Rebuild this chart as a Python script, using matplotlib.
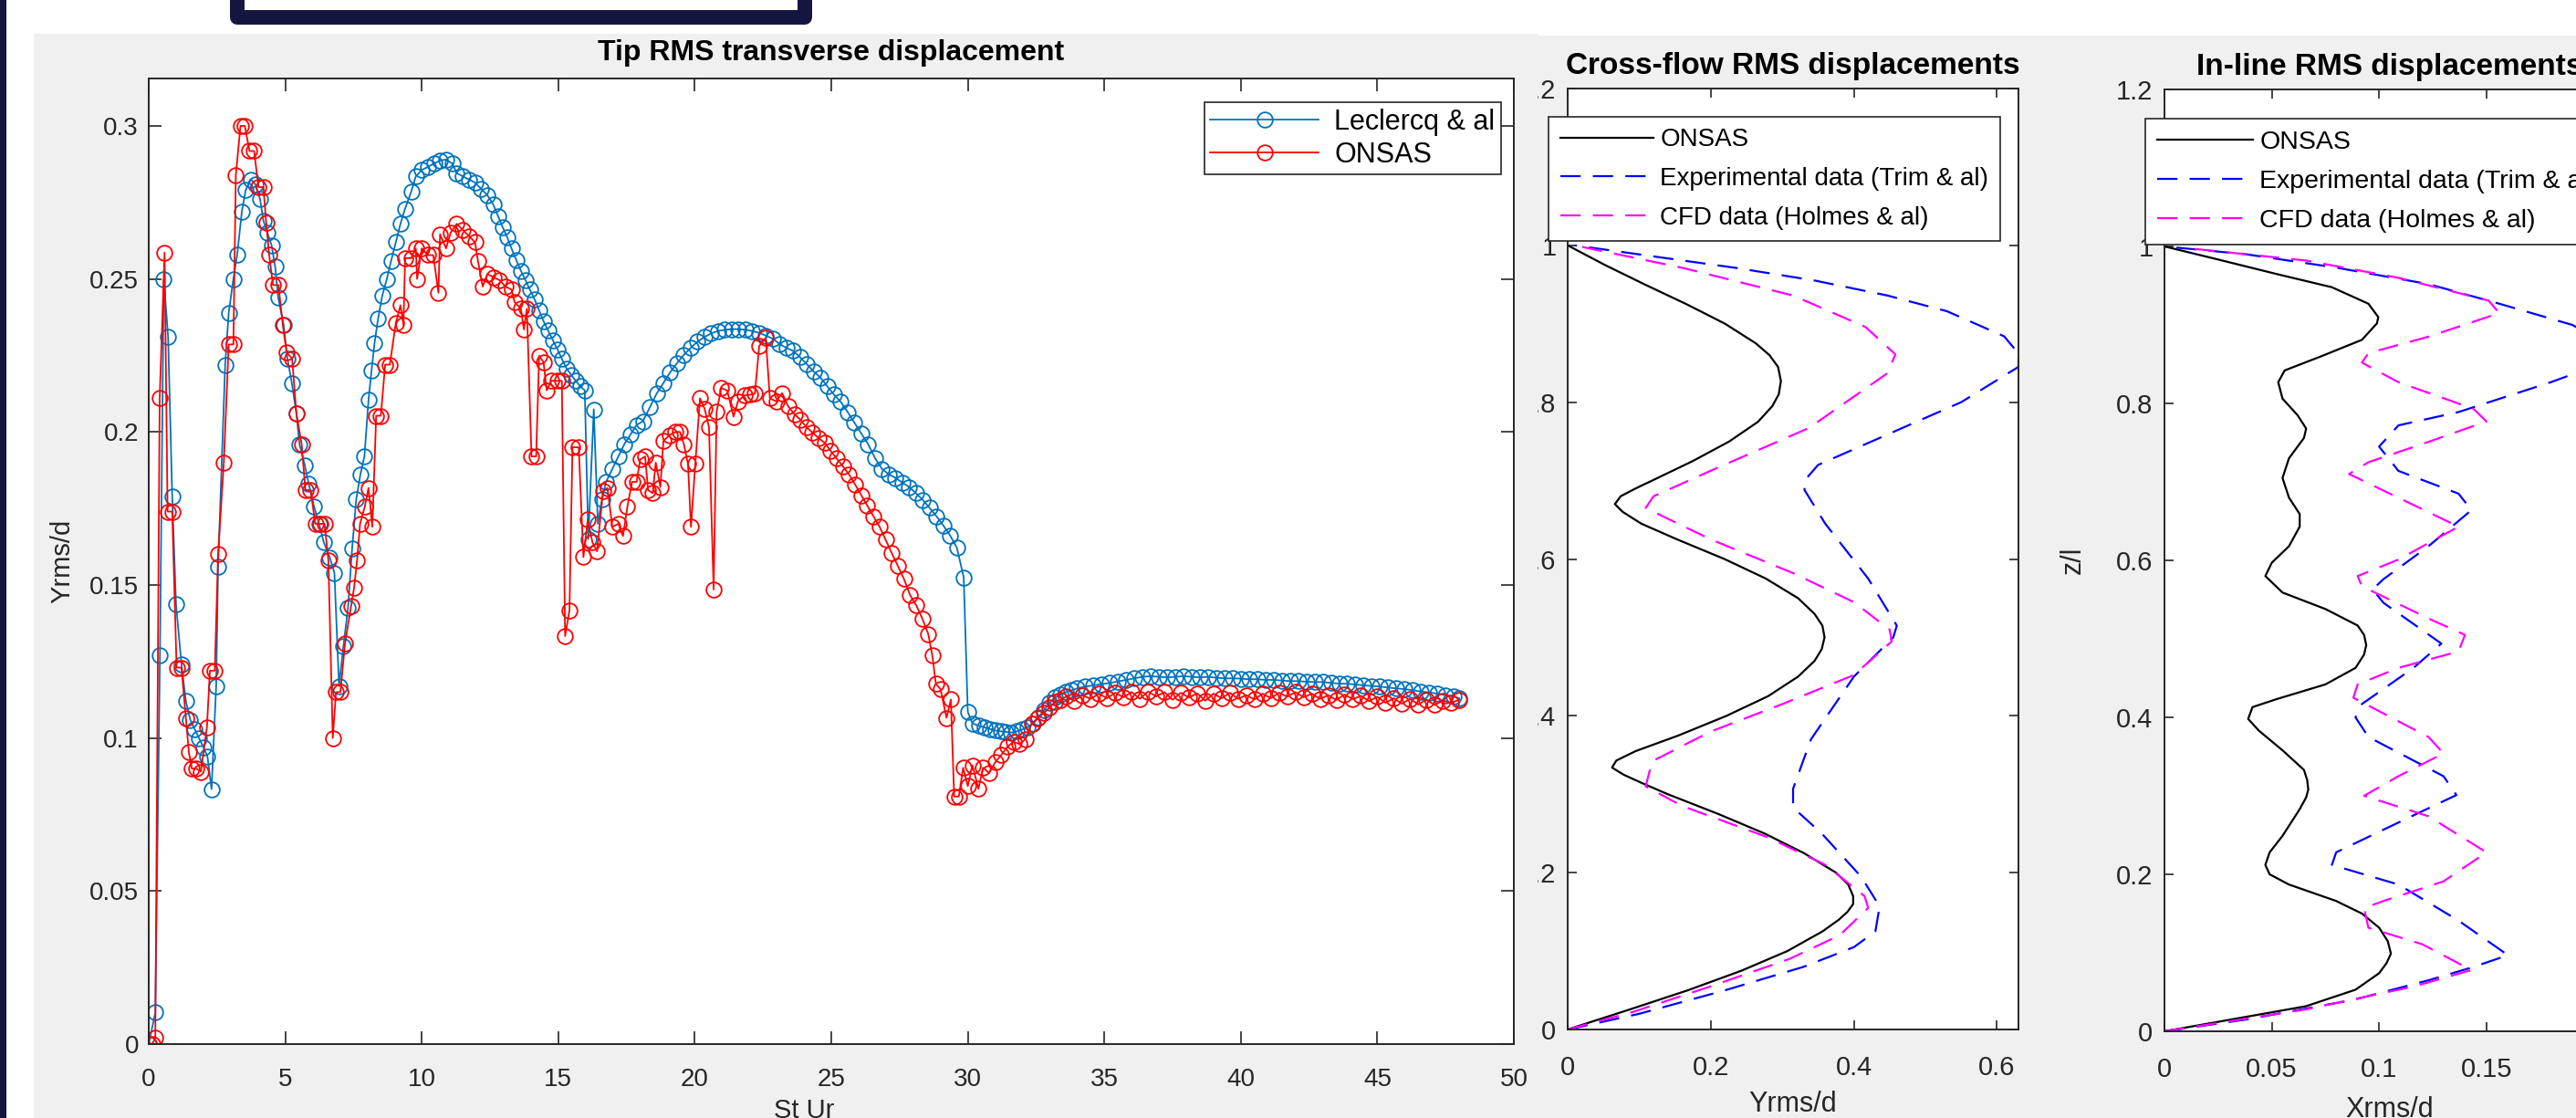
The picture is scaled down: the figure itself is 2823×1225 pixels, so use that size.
import numpy as np
import matplotlib.pyplot as plt
from matplotlib.patches import Rectangle

plt.rcParams['font.family'] = ['Liberation Sans', 'DejaVu Sans']

# ---------------- data: tip RMS transverse displacement ----------------
lec_x = [0.0, 0.24, 0.41, 0.55, 0.71, 0.86, 1.0, 1.2, 1.36, 1.52, 1.68, 1.84, 2.0, 2.15, 2.3,
         2.47, 2.54, 2.8, 2.93, 3.1, 3.24, 3.41, 3.55, 3.74, 3.9, 4.08, 4.2, 4.35, 4.5, 4.63,
         4.74, 4.94, 5.08, 5.24, 5.41, 5.52, 5.72, 5.86, 6.06, 6.24, 6.41, 6.63, 6.8, 6.97, 7.13,
         7.3, 7.45, 7.6, 7.75, 7.9, 8.05, 8.16, 8.27, 8.4, 8.55, 8.72, 8.88, 9.05, 9.22, 9.39,
         9.61, 9.78, 10.0, 10.22, 10.45, 10.67, 10.89, 11.12, 11.28, 11.51, 11.73, 11.95, 12.18,
         12.4, 12.62, 12.79, 12.96, 13.13, 13.29, 13.46, 13.63, 13.8, 13.96, 14.13, 14.3, 14.46,
         14.63, 14.8, 14.97, 15.13, 15.3, 15.47, 15.64, 15.8, 15.97, 16.1, 16.3, 16.45, 16.6,
         16.75, 16.98, 17.2, 17.42, 17.65, 17.87, 18.1, 18.35, 18.6, 18.85, 19.1, 19.35, 19.6,
         19.85, 20.1, 20.35, 20.6, 20.85, 21.1, 21.35, 21.6, 21.85, 22.1, 22.35, 22.6, 22.85,
         23.1, 23.35, 23.6, 23.85, 24.1, 24.35, 24.6, 24.85, 25.1, 25.35, 25.6, 25.85, 26.1,
         26.35, 26.6, 26.85, 27.1, 27.35, 27.6, 27.85, 28.1, 28.35, 28.6, 28.85, 29.1, 29.35,
         29.6, 29.85, 30.0, 30.17, 30.4, 30.6, 30.8, 31.0, 31.2, 31.4, 31.6, 31.8, 32.0, 32.2,
         32.4, 32.6, 32.8, 33.0, 33.2, 33.4, 33.6, 33.8, 34.0, 34.3, 34.6, 34.9, 35.2, 35.5,
         35.8, 36.1, 36.4, 36.7, 37.0, 37.3, 37.6, 37.9, 38.2, 38.5, 38.8, 39.1, 39.4, 39.7,
         40.0, 40.3, 40.6, 40.9, 41.2, 41.5, 41.8, 42.1, 42.4, 42.7, 43.0, 43.3, 43.6, 43.9,
         44.2, 44.5, 44.8, 45.1, 45.4, 45.7, 46.0, 46.3, 46.6, 46.9, 47.2, 47.5, 47.8, 48.0]
lec_y = [0.0, 0.0103, 0.127, 0.25, 0.231, 0.179, 0.1436, 0.124, 0.112, 0.106, 0.103, 0.100, 0.097, 0.094, 0.0833,
         0.117, 0.156, 0.222, 0.239, 0.250, 0.258, 0.272, 0.279, 0.2825, 0.281, 0.276, 0.269, 0.265, 0.261, 0.254,
         0.244, 0.235, 0.224, 0.216, 0.206, 0.196, 0.189, 0.183, 0.1755, 0.170, 0.164, 0.159, 0.154, 0.117, 0.130,
         0.1426, 0.162, 0.178, 0.186, 0.192, 0.2105, 0.220, 0.229, 0.237, 0.2444, 0.250, 0.256, 0.262, 0.268, 0.273,
         0.2784, 0.2835, 0.2856, 0.2866, 0.2877, 0.2887, 0.289, 0.2877, 0.2846, 0.2835, 0.2825, 0.2815, 0.2794,
         0.2774, 0.2743, 0.2706, 0.267, 0.2636, 0.2599, 0.2562, 0.2527, 0.2496, 0.2465, 0.2434, 0.2397, 0.2362,
         0.2331, 0.230, 0.227, 0.2239, 0.2208, 0.2187, 0.2167, 0.215, 0.2136, 0.165, 0.2074, 0.170, 0.178,
         0.1837, 0.1879, 0.192, 0.196, 0.1992, 0.2023, 0.2035, 0.208, 0.2125, 0.216, 0.2195, 0.2225, 0.2252,
         0.2275, 0.2295, 0.231, 0.2322, 0.233, 0.2334, 0.2336, 0.2336, 0.2334, 0.233, 0.2324, 0.2315, 0.2305,
         0.2288, 0.2275, 0.2265, 0.2245, 0.2222, 0.2198, 0.2178, 0.2150, 0.2122, 0.2098, 0.2065, 0.2030, 0.1995,
         0.196, 0.1915, 0.1880, 0.1862, 0.1850, 0.1835, 0.1820, 0.1800, 0.1778, 0.1752, 0.1725, 0.1695, 0.1662,
         0.1622, 0.1525, 0.1085, 0.1048, 0.1040, 0.1035, 0.1030, 0.1025, 0.1022, 0.1020, 0.1018, 0.1022, 0.1028, 0.1036,
         0.1048, 0.1068, 0.1092, 0.1115, 0.1132, 0.1142, 0.1150, 0.1156, 0.1162, 0.1168, 0.1172, 0.1176, 0.1180, 0.1185,
         0.1190, 0.1195, 0.1200, 0.1202, 0.1200, 0.1198, 0.1200, 0.1202, 0.1200, 0.1198, 0.1200, 0.1197, 0.1195, 0.1195,
         0.1194, 0.1192, 0.1192, 0.1190, 0.1190, 0.1188, 0.1186, 0.1186, 0.1184, 0.1183, 0.1183, 0.1180, 0.1178, 0.1177,
         0.1175, 0.1172, 0.1170, 0.1168, 0.1165, 0.1162, 0.1160, 0.1156, 0.1152, 0.1149, 0.1145, 0.1140, 0.1135, 0.1130]

ons_x = [0.0, 0.12, 0.24, 0.4, 0.58, 0.69, 0.86, 1.02, 1.2, 1.36, 1.47, 1.58, 1.74, 1.91, 2.13,
         2.24, 2.42, 2.54, 2.75, 2.93, 3.1, 3.19, 3.36, 3.52, 3.69, 3.86, 4.02, 4.2, 4.3, 4.41,
         4.55, 4.75, 4.91, 5.05, 5.25, 5.41, 5.6, 5.74, 5.93, 6.1, 6.27, 6.44, 6.58, 6.74, 6.86,
         7.02, 7.19, 7.41, 7.52, 7.63, 7.74, 7.91, 8.05, 8.19, 8.33, 8.5, 8.66, 8.83, 9.05, 9.22,
         9.33, 9.39, 9.61, 9.78, 9.83, 10.0, 10.22, 10.42, 10.61, 10.67, 10.89, 11.06, 11.28,
         11.51, 11.73, 11.95, 12.06, 12.23, 12.4, 12.62, 12.85, 13.07, 13.29, 13.4, 13.63, 13.74,
         13.85, 14.02, 14.19, 14.3, 14.46, 14.58, 14.74, 14.97, 15.13, 15.25, 15.41, 15.52, 15.75,
         15.92, 16.08, 16.25, 16.42, 16.64, 16.8, 16.98, 17.2, 17.37, 17.53, 17.7, 17.87, 18.0,
         18.18, 18.29, 18.46, 18.57, 18.74, 18.85, 19.07, 19.3, 19.46, 19.6, 19.75, 19.86, 20.02,
         20.19, 20.36, 20.52, 20.69, 20.8, 20.97, 21.19, 21.42, 21.58, 21.81, 22.03, 22.2, 22.36,
         22.6, 22.75, 22.98, 23.2, 23.42, 23.65, 23.87, 24.09, 24.31, 24.54, 24.76, 24.98, 25.2,
         25.43, 25.65, 25.88, 26.1, 26.32, 26.54, 26.77, 26.99, 27.21, 27.44, 27.66, 27.88, 28.11,
         28.33, 28.55, 28.7, 28.83, 29.0, 29.22, 29.38, 29.5, 29.67, 29.83, 30.0, 30.17, 30.39,
         30.56, 30.78, 31.0, 31.23, 31.45, 31.67, 31.9, 32.12, 32.34, 32.56, 32.79, 33.0, 33.2,
         33.4, 33.6, 33.9, 34.2, 34.5, 34.8, 35.1, 35.4, 35.7, 36.0, 36.3, 36.6, 36.9, 37.2, 37.5,
         37.8, 38.1, 38.4, 38.7, 39.0, 39.3, 39.6, 39.9, 40.2, 40.5, 40.8, 41.1, 41.4, 41.7, 42.0,
         42.3, 42.6, 42.9, 43.2, 43.5, 43.8, 44.1, 44.4, 44.7, 45.0, 45.3, 45.6, 45.9, 46.2, 46.5,
         46.8, 47.1, 47.4, 47.7, 48.0]
ons_y = [0.0, 0.0, 0.002, 0.211, 0.2586, 0.174, 0.174, 0.123, 0.123, 0.1066, 0.0953, 0.090, 0.090, 0.089, 0.1035,
         0.122, 0.122, 0.160, 0.190, 0.2286, 0.2286, 0.284, 0.300, 0.300, 0.2918, 0.2918, 0.280, 0.280, 0.2685, 0.258,
         0.248, 0.248, 0.235, 0.226, 0.224, 0.206, 0.196, 0.181, 0.181, 0.170, 0.170, 0.170, 0.158, 0.100, 0.115,
         0.115, 0.131, 0.143, 0.149, 0.158, 0.170, 0.1755, 0.1817, 0.169, 0.2053, 0.2053, 0.222, 0.222, 0.2356, 0.2414,
         0.235, 0.2568, 0.2568, 0.260, 0.250, 0.260, 0.2578, 0.2578, 0.2455, 0.2646, 0.260, 0.2652, 0.268,
         0.266, 0.264, 0.262, 0.2558, 0.2475, 0.2516, 0.2506, 0.2496, 0.2475, 0.2465, 0.2424, 0.2403, 0.2335,
         0.2403, 0.192, 0.192, 0.2249, 0.2228, 0.2136, 0.2167, 0.2167, 0.2167, 0.1333, 0.1416, 0.195, 0.195,
         0.1591, 0.1714, 0.164, 0.161, 0.1807, 0.1817, 0.169, 0.170, 0.166, 0.1755, 0.1837, 0.1837, 0.191,
         0.192, 0.181, 0.180, 0.190, 0.182, 0.197, 0.199, 0.200, 0.200, 0.196, 0.1896, 0.169, 0.1896,
         0.211, 0.2076, 0.2016, 0.1485, 0.2067, 0.2144, 0.2135, 0.205, 0.210, 0.2119, 0.2122, 0.2125, 0.2281,
         0.2307, 0.211, 0.210, 0.2127, 0.2084, 0.2058, 0.204, 0.2016, 0.1998, 0.198, 0.1964, 0.1938, 0.1913,
         0.1887, 0.1861, 0.1827, 0.1793, 0.1759, 0.1725, 0.169, 0.1648, 0.1605, 0.1562, 0.152, 0.1468, 0.1434,
         0.1391, 0.134, 0.127, 0.1177, 0.116, 0.1066, 0.1126, 0.0809, 0.0809, 0.0903, 0.0843, 0.0911, 0.0834,
         0.0903, 0.0886, 0.092, 0.0945, 0.0971, 0.0988, 0.098, 0.0997, 0.1048, 0.1065, 0.1082, 0.110, 0.1118,
         0.1125, 0.1135, 0.1122, 0.1140, 0.1128, 0.1145, 0.1130, 0.1148, 0.1133, 0.1150, 0.1128, 0.1152, 0.1136, 0.1150, 0.1125,
         0.1148, 0.1132, 0.1146, 0.1122, 0.1145, 0.1130, 0.1148, 0.1128, 0.1140, 0.1126, 0.1145, 0.1130, 0.1148, 0.1135, 0.1150,
         0.1133, 0.1145, 0.1128, 0.1140, 0.1124, 0.1142, 0.1127, 0.1138, 0.1120, 0.1135, 0.1115, 0.1130, 0.1112, 0.1128, 0.1110,
         0.1125, 0.1108, 0.1122, 0.1115, 0.1125]

# ---------------- data: cross-flow RMS displacement profiles ----------------
cf_onsas_z = [0.0, 0.025, 0.05, 0.075, 0.10, 0.125, 0.14, 0.15, 0.16, 0.17, 0.185, 0.20, 0.225, 0.25,
              0.275, 0.30, 0.315, 0.325, 0.334, 0.343, 0.355, 0.375, 0.40, 0.425, 0.45, 0.47, 0.485,
              0.50, 0.515, 0.53, 0.55, 0.575, 0.60, 0.625, 0.645, 0.66, 0.67, 0.68, 0.69, 0.70, 0.725,
              0.75, 0.775, 0.795, 0.81, 0.827, 0.845, 0.86, 0.875, 0.90, 0.925, 0.95, 0.975, 1.0]
cf_onsas_x = [0.0, 0.085, 0.168, 0.243, 0.307, 0.356, 0.379, 0.391, 0.399, 0.399, 0.392, 0.375, 0.330, 0.275,
              0.210, 0.140, 0.102, 0.078, 0.062, 0.068, 0.095, 0.155, 0.222, 0.280, 0.322, 0.345, 0.355,
              0.359, 0.356, 0.345, 0.322, 0.277, 0.219, 0.153, 0.103, 0.077, 0.066, 0.074, 0.095, 0.118, 0.175,
              0.226, 0.266, 0.286, 0.295, 0.298, 0.294, 0.282, 0.263, 0.220, 0.166, 0.108, 0.052, 0.0]
cf_trim_z = [0.0, 0.02, 0.05, 0.08, 0.105, 0.125, 0.157, 0.195, 0.25, 0.283, 0.307, 0.37, 0.45, 0.50,
             0.515, 0.575, 0.645, 0.688, 0.70, 0.72, 0.76, 0.80, 0.845, 0.862, 0.884, 0.916, 0.936, 0.955,
             0.971, 0.985, 1.0]
cf_trim_x = [0.0, 0.10, 0.22, 0.33, 0.40, 0.43, 0.436, 0.41, 0.355, 0.315, 0.315, 0.34, 0.40, 0.455,
             0.46, 0.42, 0.36, 0.331, 0.331, 0.35, 0.45, 0.55, 0.63, 0.63, 0.61, 0.53, 0.447, 0.346,
             0.237, 0.127, 0.01]
cf_holmes_z = [0.0, 0.022, 0.055, 0.09, 0.12, 0.155, 0.17, 0.21, 0.245, 0.285, 0.31, 0.342, 0.38, 0.415,
               0.452, 0.495, 0.51, 0.545, 0.582, 0.625, 0.665, 0.68, 0.715, 0.767, 0.837, 0.861, 0.896,
               0.936, 0.971, 1.0]
cf_holmes_x = [0.0, 0.09, 0.20, 0.31, 0.38, 0.42, 0.415, 0.36, 0.28, 0.16, 0.109, 0.118, 0.20, 0.30,
               0.40, 0.453, 0.45, 0.40, 0.315, 0.20, 0.109, 0.12, 0.206, 0.337, 0.447, 0.458, 0.416,
               0.315, 0.162, 0.01]

# ---------------- data: in-line RMS displacement profiles ----------------
il_onsas_z = [0.0, 0.015, 0.032, 0.053, 0.074, 0.087, 0.099, 0.115, 0.132, 0.15, 0.166, 0.187, 0.2, 0.212,
              0.228, 0.249, 0.283, 0.298, 0.308, 0.32, 0.333, 0.358, 0.383, 0.398, 0.413, 0.423, 0.442,
              0.463, 0.48, 0.492, 0.505, 0.517, 0.538, 0.559, 0.58, 0.597, 0.618, 0.643, 0.659, 0.68, 0.705,
              0.73, 0.756, 0.768, 0.785, 0.806, 0.827, 0.842, 0.86, 0.881, 0.902, 0.91, 0.927, 0.948,
              0.965, 0.984, 1.0]
il_onsas_x = [0.0, 0.031, 0.066, 0.089, 0.100, 0.1035, 0.1055, 0.104, 0.100, 0.092, 0.080, 0.058, 0.049, 0.047,
              0.049, 0.055, 0.063, 0.066, 0.067, 0.0665, 0.065, 0.055, 0.044, 0.039, 0.041, 0.052, 0.075,
              0.089, 0.093, 0.094, 0.093, 0.090, 0.075, 0.055, 0.047, 0.050, 0.058, 0.063, 0.063, 0.058, 0.055,
              0.058, 0.065, 0.066, 0.062, 0.055, 0.053, 0.056, 0.073, 0.092, 0.099, 0.0996, 0.095, 0.078,
              0.052, 0.024, 0.0]
il_trim_z = [0.0, 0.015, 0.04, 0.065, 0.082, 0.097, 0.141, 0.187, 0.212, 0.228, 0.266, 0.301, 0.325, 0.375,
             0.40, 0.417, 0.463, 0.494, 0.546, 0.563, 0.576, 0.618, 0.664, 0.685, 0.714, 0.745, 0.772, 0.789,
             0.827, 0.862, 0.90, 0.927, 0.952, 0.973, 0.99, 1.0]
il_trim_x = [0.0, 0.038, 0.088, 0.123, 0.144, 0.160, 0.137, 0.109, 0.078, 0.080, 0.109, 0.136, 0.130, 0.095,
             0.089, 0.092, 0.116, 0.129, 0.102, 0.097, 0.102, 0.123, 0.143, 0.137, 0.109, 0.100, 0.109, 0.137,
             0.180, 0.215, 0.190, 0.156, 0.123, 0.080, 0.038, 0.0]
il_holmes_z = [0.0, 0.028, 0.057, 0.078, 0.111, 0.132, 0.157, 0.166, 0.191, 0.228, 0.274, 0.30, 0.325, 0.354,
               0.375, 0.425, 0.442, 0.463, 0.484, 0.505, 0.526, 0.567, 0.58, 0.601, 0.643, 0.71, 0.725, 0.751,
               0.777, 0.793, 0.827, 0.852, 0.864, 0.885, 0.915, 0.931, 0.96, 0.982, 0.998]
il_holmes_x = [0.0, 0.066, 0.116, 0.143, 0.120, 0.095, 0.093, 0.102, 0.130, 0.150, 0.123, 0.093, 0.109, 0.130,
               0.123, 0.088, 0.090, 0.109, 0.137, 0.140, 0.123, 0.092, 0.090, 0.109, 0.137, 0.086, 0.095, 0.123,
               0.150, 0.144, 0.109, 0.092, 0.095, 0.123, 0.156, 0.151, 0.109, 0.066, 0.010]

# ---------------- figure ----------------
W, H = 2823, 1225
NAVY = '#15163f'
GRAY = '#f0f0f0'
AX_COL = '#262626'

fig = plt.figure(figsize=(W / 100, H / 100), dpi=100)
fig.patch.set_facecolor('white')


def px_box(x0, y0, x1, y1):
    """Pixel box (top-left origin) to figure fraction [l, b, w, h]."""
    return [x0 / W, 1 - y1 / H, (x1 - x0) / W, (y1 - y0) / H]


def style_axes(ax, fs, ticklen):
    for s in ax.spines.values():
        s.set_color(AX_COL)
        s.set_linewidth(1.4)
    ax.tick_params(which='both', direction='in', top=True, right=True, length=ticklen,
                   width=1.2, color=AX_COL, labelsize=fs, labelcolor=AX_COL)


# backgrounds (right window behind, left window covers the right window's clipped labels)
fig.add_artist(Rectangle((1685 / W, 0), (W - 1685) / W, (H - 39) / H, transform=fig.transFigure,
                         fc=GRAY, ec='none', zorder=-2))
fig.add_artist(Rectangle((37 / W, 0), (1685 - 37) / W, (H - 37) / H, transform=fig.transFigure,
                         fc=GRAY, ec='none', zorder=0.5))

# ---- left: tip RMS ----
axL = fig.add_axes(px_box(163, 86, 1659, 1144), zorder=1)
style_axes(axL, 20, 10)
axL.plot(lec_x, lec_y, color='#0072bd', lw=1.3, marker='o', ms=12, mfc='none', mew=1.3,
         label='Leclercq & al')
axL.plot(ons_x, ons_y, color='#ff0000', lw=1.3, marker='o', ms=12, mfc='none', mew=1.3,
         label='ONSAS')
axL.set_xlim(0, 50)
axL.set_ylim(0, 0.3155)
axL.set_xticks(np.arange(0, 51, 5))
axL.set_yticks([0, 0.05, 0.1, 0.15, 0.2, 0.25, 0.3])
axL.set_yticklabels(['0', '0.05', '0.1', '0.15', '0.2', '0.25', '0.3'])
axL.tick_params(axis='x', pad=19)
axL.tick_params(axis='y', pad=8)
axL.set_xlabel('St Ur', fontsize=21, color=AX_COL)
axL.set_ylabel('Yrms/d', fontsize=21, color=AX_COL)
axL.xaxis.set_label_coords(0.48, -0.069)
axL.xaxis.label.set_va('center')
axL.yaxis.set_label_coords(-0.0635, 0.5)
axL.yaxis.label.set_va('center')
axL.text(0.5, 1.0265, 'Tip RMS transverse displacement', transform=axL.transAxes,
         ha='center', va='center', fontsize=23, fontweight='bold', color='black')
legL = axL.legend(loc='upper right', bbox_to_anchor=(0.9906, 0.975), fontsize=22, fancybox=False,
                  edgecolor=AX_COL, framealpha=1, handlelength=3.9, handletextpad=0.55,
                  borderpad=0.22, labelspacing=0.18, borderaxespad=0)
legL.get_frame().set_linewidth(1.2)

# ---- middle: cross-flow ----
DASH = (0, (10, 6))
axM = fig.add_axes(px_box(1718, 97, 2212, 1128), zorder=0)
style_axes(axM, 21, 7)
axM.plot(cf_onsas_x, cf_onsas_z, color='black', lw=1.6, label='ONSAS')
axM.plot(cf_trim_x, cf_trim_z, color='#0000ff', lw=1.6, ls=DASH, label='Experimental data (Trim & al)')
axM.plot(cf_holmes_x, cf_holmes_z, color='#ff00ff', lw=1.6, ls=DASH, label='CFD data (Holmes & al)')
axM.set_xlim(0, 0.63)
axM.set_ylim(0, 1.2)
axM.set_xticks([0, 0.2, 0.4, 0.6])
axM.set_xticklabels(['0', '0.2', '0.4', '0.6'])
axM.set_yticks([0, 0.2, 0.4, 0.6, 0.8, 1.0, 1.2])
axM.set_yticklabels(['0', '0.2', '0.4', '0.6', '0.8', '1', '1.2'])
axM.tick_params(axis='x', pad=20)
axM.tick_params(axis='y', pad=9)
axM.set_xlabel('Yrms/d', fontsize=22, color=AX_COL)
axM.xaxis.set_label_coords(0.5, -0.08)
axM.xaxis.label.set_va('center')
axM.set_ylabel('z/l', fontsize=22, color=AX_COL)
axM.yaxis.set_label_coords(-0.202, 0.5)
axM.yaxis.label.set_va('center')
axM.text(0.5, 1.0242, 'Cross-flow RMS displacements', transform=axM.transAxes,
         ha='center', va='center', fontsize=24, fontweight='bold', color='black')
legM = axM.legend(loc='upper left', bbox_to_anchor=(1697 / W, 1 - 128 / H), bbox_transform=fig.transFigure,
                  fontsize=20, fancybox=False, edgecolor=AX_COL, framealpha=1, handlelength=3.7,
                  handletextpad=0.25, borderpad=0.45, labelspacing=0.6, borderaxespad=0)
legM.get_frame().set_linewidth(1.2)

# ---- right: in-line ----
axR = fig.add_axes(px_box(2372, 98, 2866, 1130), zorder=0)
style_axes(axR, 21, 7)
axR.plot(il_onsas_x, il_onsas_z, color='black', lw=1.6, label='ONSAS')
axR.plot(il_trim_x, il_trim_z, color='#0000ff', lw=1.6, ls=DASH, label='Experimental data (Trim & al)')
axR.plot(il_holmes_x, il_holmes_z, color='#ff00ff', lw=1.6, ls=DASH, label='CFD data (Holmes & al)')
axR.set_xlim(0, 0.21)
axR.set_ylim(0, 1.2)
axR.set_xticks([0, 0.05, 0.1, 0.15, 0.2])
axR.set_xticklabels(['0', '0.05', '0.1', '0.15', '0.2'])
axR.set_yticks([0, 0.2, 0.4, 0.6, 0.8, 1.0, 1.2])
axR.set_yticklabels(['0', '0.2', '0.4', '0.6', '0.8', '1', '1.2'])
axR.tick_params(axis='x', pad=20)
axR.tick_params(axis='y', pad=9)
axR.set_xlabel('Xrms/d', fontsize=22, color=AX_COL)
axR.xaxis.set_label_coords(0.5, -0.083)
axR.xaxis.label.set_va('center')
axR.set_ylabel('z/l', fontsize=22, color=AX_COL)
axR.yaxis.set_label_coords(-0.202, 0.5)
axR.yaxis.label.set_va('center')
axR.text(0.5, 1.0242, 'In-line RMS displacements', transform=axR.transAxes,
         ha='center', va='center', fontsize=24, fontweight='bold', color='black')
legR = axR.legend(loc='upper left', bbox_to_anchor=(2351 / W, 1 - 130 / H), bbox_transform=fig.transFigure,
                  fontsize=20.5, fancybox=False, edgecolor=AX_COL, framealpha=1, handlelength=3.7,
                  handletextpad=0.25, borderpad=0.45, labelspacing=0.6, borderaxespad=0)
legR.get_frame().set_linewidth(1.2)

# ---- slide frame decorations ----
fig.add_artist(Rectangle((0, 0), 7 / W, 1, transform=fig.transFigure, fc=NAVY, ec='none', zorder=5))
fig.add_artist(Rectangle((260 / W, 1 - 19 / H), (882 - 260) / W, 60 / H, transform=fig.transFigure,
                         fc='white', ec=NAVY, lw=11.5, joinstyle='round', zorder=5))

fig.savefig('out.png', dpi=100)
